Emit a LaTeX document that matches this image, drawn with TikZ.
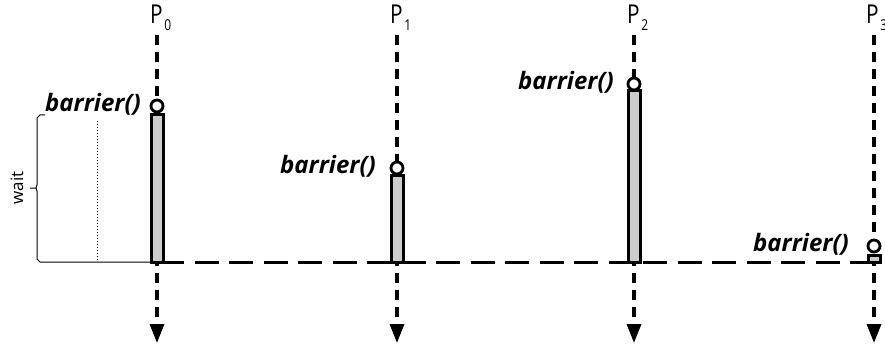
\documentclass[tikz,border=0pt]{standalone}
\usepackage{fontspec}
\setmainfont{Open Sans}
\usetikzlibrary{arrows.meta}
\definecolor{bargray}{HTML}{CCCCCC}
\tikzset{
  timeline/.style={line width=3.3pt, dash pattern=on 10pt off 7pt, -{Triangle[width=14pt,length=19pt]}},
  syncline/.style={line width=3pt, dash pattern=on 24pt off 10.5pt},
  barbox/.style={draw, line width=3pt, fill=bargray},
  barcirc/.style={draw, line width=2.8pt, fill=white, circle, minimum size=12pt, inner sep=0pt},
  blabel/.style={font=\fontsize{24}{26}\selectfont\bfseries\itshape, anchor=base east, inner sep=0pt},
  plabel/.style={font=\fontsize{26}{28}\selectfont, anchor=base west, inner sep=0pt, xscale=0.8},
}
\newcommand{\subdigit}[1]{\hspace{2pt}\raisebox{-7pt}{\fontsize{15}{16}\selectfont #1}}
\begin{document}
\begin{tikzpicture}[x=1pt,y=-1pt]
\useasboundingbox (0,0) rectangle (885,350);
% process labels
\foreach \i/\x in {0/157,1/397,2/634,3/873}{
  \node[plabel] (P\i) at (\x-7,24) {P\subdigit{\i}};
}
\foreach \i/\x in {0/157,1/397,2/634,3/874}{
  \coordinate (top\i) at (\x,35);
  \coordinate (bot\i) at (\x,343);
}
% horizontal sync line
\coordinate (hl) at (160,262);
\coordinate (hr) at (885,262);
\draw[syncline] (hl) -- (hr);
% timelines
\foreach \i in {0,1,2,3}{
  \draw[timeline] (top\i) -- (bot\i);
}
% bars
\draw[barbox] (151.5,115) rectangle (163,262);
\draw[barbox] (391.5,175) rectangle (403,262);
\draw[barbox] (628.5,91) rectangle (640,262);
\draw[barbox] (868,255) rectangle (880,262);
% circles
\node[barcirc] (c0) at (157,106) {};
\node[barcirc] (c1) at (397,168) {};
\node[barcirc] (c2) at (634,84) {};
\node[barcirc] (c3) at (874,246) {};
% labels
\node[blabel] (b0) at (141,111) {barrier()};
\node[blabel] (b1) at (376,173) {barrier()};
\node[blabel] (b2) at (614,90) {barrier()};
\node[blabel] (b3) at (849,251) {barrier()};
% wait bracket
\coordinate (wt) at (45,115);
\coordinate (wb) at (45,262);
\draw[line width=1pt] (wt) -- ++(-5,0) -- ++(-3,3) -- (37,185) -- ++(-1,3) -- (30,188) (36,188) -- ++(1,3) -- (37,259) -- ++(3,3) -- (150,262);
\draw[line width=1pt, dotted] (97,121) -- (97,260);
\node[rotate=90, font=\fontsize{17}{18}\selectfont] (wait) at (17,188) {wait};
\end{tikzpicture}
\end{document}
